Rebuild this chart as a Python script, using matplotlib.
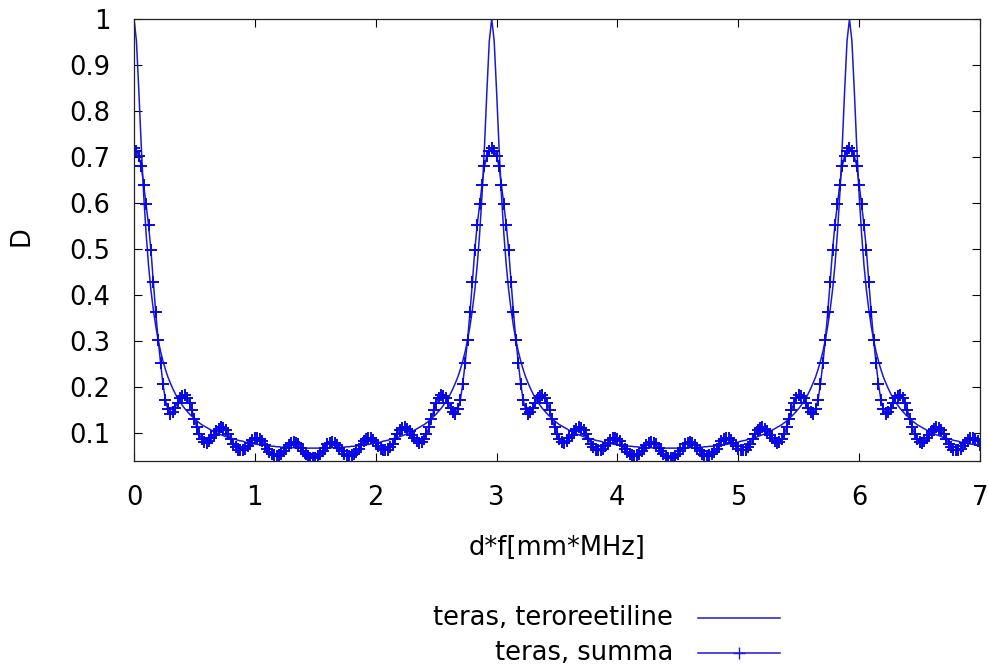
import numpy as np
import matplotlib
matplotlib.use("Agg")
import matplotlib.pyplot as plt
from matplotlib.lines import Line2D

plt.rcParams['font.family'] = ['DejaVu Sans']

# sampling grid of d*f  [mm*MHz]
df_step = 0.02
n_points = 351
d_f = np.round(np.arange(n_points) * df_step, 2)

# theoretical transmission D (teras, teroreetiline)
D_teoreetiline = [
    # 0.00 - 1.48
    1.000, 0.953, 0.844, 0.724, 0.618, 0.534, 0.465, 0.411, 0.368, 0.332,
    0.302, 0.277, 0.256, 0.238, 0.222, 0.209, 0.197, 0.186, 0.176, 0.168,
    0.160, 0.153, 0.147, 0.141, 0.136, 0.131, 0.126, 0.122, 0.118, 0.115,
    0.112, 0.109, 0.106, 0.103, 0.101, 0.098, 0.096, 0.094, 0.092, 0.090,
    0.089, 0.087, 0.086, 0.084, 0.083, 0.082, 0.080, 0.079, 0.078, 0.077,
    0.076, 0.075, 0.075, 0.074, 0.073, 0.072, 0.072, 0.071, 0.071, 0.070,
    0.070, 0.069, 0.069, 0.069, 0.068, 0.068, 0.068, 0.067, 0.067, 0.067,
    0.067, 0.067, 0.067, 0.067, 0.067,
    # 1.50 - 2.94
    0.067, 0.067, 0.067, 0.067, 0.067, 0.067, 0.067, 0.068, 0.068, 0.068,
    0.069, 0.069, 0.069, 0.070, 0.070, 0.071, 0.071, 0.072, 0.072, 0.073,
    0.074, 0.075, 0.075, 0.076, 0.077, 0.078, 0.079, 0.080, 0.082, 0.083,
    0.084, 0.086, 0.087, 0.089, 0.090, 0.092, 0.094, 0.096, 0.098, 0.101,
    0.103, 0.106, 0.109, 0.112, 0.115, 0.118, 0.122, 0.126, 0.131, 0.136,
    0.141, 0.147, 0.153, 0.160, 0.168, 0.176, 0.186, 0.197, 0.209, 0.222,
    0.238, 0.256, 0.277, 0.302, 0.332, 0.368, 0.411, 0.465, 0.534, 0.618,
    0.724, 0.844, 0.953,
    # 2.96 - 4.44
    1.000, 0.953, 0.844, 0.724, 0.618, 0.534, 0.465, 0.411, 0.368, 0.332,
    0.302, 0.277, 0.256, 0.238, 0.222, 0.209, 0.197, 0.186, 0.176, 0.168,
    0.160, 0.153, 0.147, 0.141, 0.136, 0.131, 0.126, 0.122, 0.118, 0.115,
    0.112, 0.109, 0.106, 0.103, 0.101, 0.098, 0.096, 0.094, 0.092, 0.090,
    0.089, 0.087, 0.086, 0.084, 0.083, 0.082, 0.080, 0.079, 0.078, 0.077,
    0.076, 0.075, 0.075, 0.074, 0.073, 0.072, 0.072, 0.071, 0.071, 0.070,
    0.070, 0.069, 0.069, 0.069, 0.068, 0.068, 0.068, 0.067, 0.067, 0.067,
    0.067, 0.067, 0.067, 0.067, 0.067,
    # 4.46 - 5.90
    0.067, 0.067, 0.067, 0.067, 0.067, 0.067, 0.067, 0.068, 0.068, 0.068,
    0.069, 0.069, 0.069, 0.070, 0.070, 0.071, 0.071, 0.072, 0.072, 0.073,
    0.074, 0.075, 0.075, 0.076, 0.077, 0.078, 0.079, 0.080, 0.082, 0.083,
    0.084, 0.086, 0.087, 0.089, 0.090, 0.092, 0.094, 0.096, 0.098, 0.101,
    0.103, 0.106, 0.109, 0.112, 0.115, 0.118, 0.122, 0.126, 0.131, 0.136,
    0.141, 0.147, 0.153, 0.160, 0.168, 0.176, 0.186, 0.197, 0.209, 0.222,
    0.238, 0.256, 0.277, 0.302, 0.332, 0.368, 0.411, 0.465, 0.534, 0.618,
    0.724, 0.844, 0.953,
    # 5.92 - 7.00
    1.000, 0.953, 0.844, 0.724, 0.618, 0.534, 0.465, 0.411, 0.368, 0.332,
    0.302, 0.277, 0.256, 0.238, 0.222, 0.209, 0.197, 0.186, 0.176, 0.168,
    0.160, 0.153, 0.147, 0.141, 0.136, 0.131, 0.126, 0.122, 0.118, 0.115,
    0.112, 0.109, 0.106, 0.103, 0.101, 0.098, 0.096, 0.094, 0.092, 0.090,
    0.089, 0.087, 0.086, 0.084, 0.083, 0.082, 0.080, 0.079, 0.078, 0.077,
    0.076, 0.075, 0.075, 0.074, 0.073,
]

# summed multiple reflections (teras, summa)
D_summa = [
    # 0.00 - 1.48
    0.720, 0.714, 0.702, 0.680, 0.640, 0.597, 0.553, 0.498, 0.428, 0.362,
    0.302, 0.252, 0.206, 0.172, 0.151, 0.142, 0.145, 0.155, 0.166, 0.175,
    0.181, 0.182, 0.177, 0.165, 0.149, 0.130, 0.112, 0.097, 0.087, 0.081,
    0.079, 0.082, 0.088, 0.096, 0.104, 0.109, 0.112, 0.111, 0.106, 0.097,
    0.087, 0.077, 0.069, 0.064, 0.062, 0.062, 0.065, 0.071, 0.078, 0.084,
    0.088, 0.089, 0.087, 0.082, 0.074, 0.066, 0.059, 0.054, 0.051, 0.050,
    0.051, 0.055, 0.061, 0.068, 0.074, 0.078, 0.080, 0.079, 0.075, 0.068,
    0.061, 0.054, 0.049, 0.046, 0.045,
    # 1.50 - 2.94
    0.046, 0.049, 0.054, 0.061, 0.068, 0.075, 0.079, 0.080, 0.078, 0.074,
    0.068, 0.061, 0.055, 0.051, 0.050, 0.051, 0.054, 0.059, 0.066, 0.074,
    0.082, 0.087, 0.089, 0.088, 0.084, 0.078, 0.071, 0.065, 0.062, 0.062,
    0.064, 0.069, 0.077, 0.087, 0.097, 0.106, 0.111, 0.112, 0.109, 0.104,
    0.096, 0.088, 0.082, 0.079, 0.081, 0.087, 0.097, 0.112, 0.130, 0.149,
    0.165, 0.177, 0.182, 0.181, 0.175, 0.166, 0.155, 0.145, 0.142, 0.151,
    0.172, 0.206, 0.252, 0.302, 0.362, 0.428, 0.498, 0.553, 0.597, 0.640,
    0.680, 0.702, 0.714,
    # 2.96 - 4.44
    0.720, 0.714, 0.702, 0.680, 0.640, 0.597, 0.553, 0.498, 0.428, 0.362,
    0.302, 0.252, 0.206, 0.172, 0.151, 0.142, 0.145, 0.155, 0.166, 0.175,
    0.181, 0.182, 0.177, 0.165, 0.149, 0.130, 0.112, 0.097, 0.087, 0.081,
    0.079, 0.082, 0.088, 0.096, 0.104, 0.109, 0.112, 0.111, 0.106, 0.097,
    0.087, 0.077, 0.069, 0.064, 0.062, 0.062, 0.065, 0.071, 0.078, 0.084,
    0.088, 0.089, 0.087, 0.082, 0.074, 0.066, 0.059, 0.054, 0.051, 0.050,
    0.051, 0.055, 0.061, 0.068, 0.074, 0.078, 0.080, 0.079, 0.075, 0.068,
    0.061, 0.054, 0.049, 0.046, 0.045,
    # 4.46 - 5.90
    0.046, 0.049, 0.054, 0.061, 0.068, 0.075, 0.079, 0.080, 0.078, 0.074,
    0.068, 0.061, 0.055, 0.051, 0.050, 0.051, 0.054, 0.059, 0.066, 0.074,
    0.082, 0.087, 0.089, 0.088, 0.084, 0.078, 0.071, 0.065, 0.062, 0.062,
    0.064, 0.069, 0.077, 0.087, 0.097, 0.106, 0.111, 0.112, 0.109, 0.104,
    0.096, 0.088, 0.082, 0.079, 0.081, 0.087, 0.097, 0.112, 0.130, 0.149,
    0.165, 0.177, 0.182, 0.181, 0.175, 0.166, 0.155, 0.145, 0.142, 0.151,
    0.172, 0.206, 0.252, 0.302, 0.362, 0.428, 0.498, 0.553, 0.597, 0.640,
    0.680, 0.702, 0.714,
    # 5.92 - 7.00
    0.720, 0.714, 0.702, 0.680, 0.640, 0.597, 0.553, 0.498, 0.428, 0.362,
    0.302, 0.252, 0.206, 0.172, 0.151, 0.142, 0.145, 0.155, 0.166, 0.175,
    0.181, 0.182, 0.177, 0.165, 0.149, 0.130, 0.112, 0.097, 0.087, 0.081,
    0.079, 0.082, 0.088, 0.096, 0.104, 0.109, 0.112, 0.111, 0.106, 0.097,
    0.087, 0.077, 0.069, 0.064, 0.062, 0.062, 0.065, 0.071, 0.078, 0.084,
    0.088, 0.089, 0.087, 0.082, 0.074,
]

x_ticks = [0, 1, 2, 3, 4, 5, 6, 7]
x_tick_labels = ['0', '1', '2', '3', '4', '5', '6', '7']
y_ticks = [0.1, 0.2, 0.3, 0.4, 0.5, 0.6, 0.7, 0.8, 0.9, 1.0]
y_tick_labels = ['0.1', '0.2', '0.3', '0.4', '0.5', '0.6', '0.7', '0.8', '0.9', '1']

label_teor = 'teras, teroreetiline'
label_summa = 'teras, summa'

line_color = '#1a1ad2'
marker_color = '#0808e6'
W, H = 988, 668
fs = 18.5

fig = plt.figure(figsize=(W / 100, H / 100), dpi=100)
ax = fig.add_axes([134 / W, 1 - 461 / H, (980 - 134) / W, (461 - 19) / H])

ax.plot(d_f, D_teoreetiline, color=line_color, lw=1.1)
ax.plot(d_f, D_summa, color=line_color, lw=1.1, marker='+', ms=8.5, mew=1.4,
        mec=marker_color)

ax.set_xlim(0, 7)
ax.set_ylim(0.039, 1.0)
ax.set_xticks(x_ticks)
ax.set_xticklabels(x_tick_labels)
ax.set_yticks(y_ticks)
ax.set_yticklabels(y_tick_labels)
ax.tick_params(direction='in', length=6, width=0.8, top=True, right=True,
               labelsize=fs, colors='black')
ax.tick_params(axis='y', pad=17)
ax.tick_params(axis='x', pad=17)
for s in ax.spines.values():
    s.set_linewidth(0.9)
    s.set_color('#222222')

fig.text(21 / W, 1 - 236 / H, 'D', rotation=90, ha='center', va='center', fontsize=fs)
fig.text(557 / W, 1 - 548 / H, 'd*f[mm*MHz]', ha='center', va='center', fontsize=fs)

# legend (gnuplot style: right-aligned text, sample to the right)
rows = [(618, label_teor, None), (653, label_summa, '+')]
for yy, lab, mk in rows:
    fig.text(673 / W, 1 - yy / H, lab, ha='right', va='center', fontsize=fs)
    fig.add_artist(Line2D([698 / W, 780 / W], [1 - yy / H, 1 - yy / H],
                          transform=fig.transFigure, color=line_color, lw=1.1))
    if mk:
        fig.add_artist(Line2D([739 / W], [1 - yy / H], transform=fig.transFigure,
                              color=line_color, marker=mk, ms=8.5, mew=1.0, ls='none'))

fig.savefig('out.png', dpi=100)
